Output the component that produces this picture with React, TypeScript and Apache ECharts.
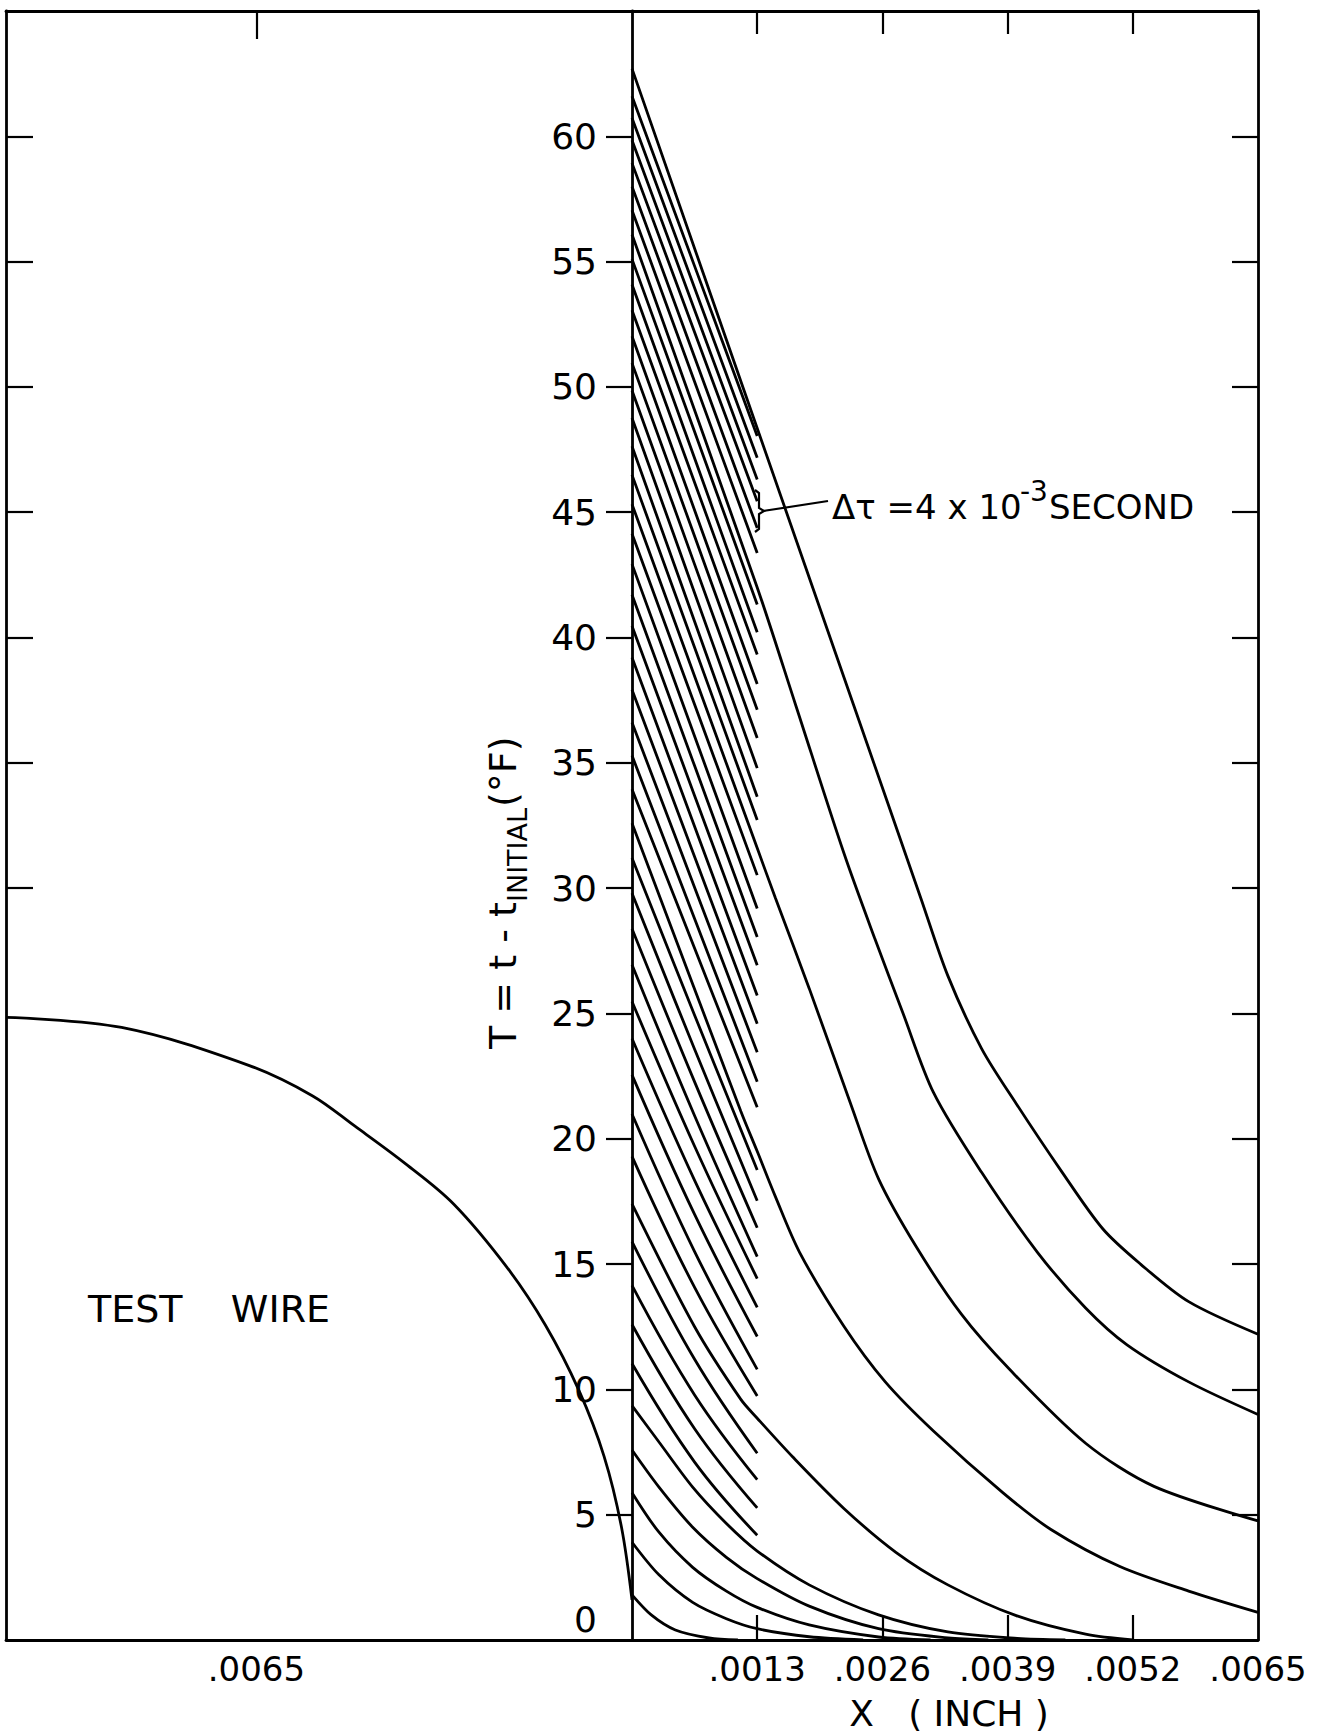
import React, { useEffect, useRef } from "react";
import * as echarts from "echarts";

// ---------- axis ticks & labels ----------
const yLabelValues = [0, 5, 10, 15, 20, 25, 30, 35, 40, 45, 50, 55, 60];
const yTickValues = [5, 10, 15, 20, 25, 30, 35, 40, 45, 50, 55, 60];
const leftFrameTickValues = [30, 35, 40, 45, 50, 55, 60];
const xTickValues = [0.0013, 0.0026, 0.0039, 0.0052];
const xLabelValues = [0.0013, 0.0026, 0.0039, 0.0052, 0.0065];
const xLabelTexts = [".0013", ".0026", ".0039", ".0052", ".0065"];
const wireTickValues = [-0.0039];
const wireLabelTexts = [".0065"];

// ---------- short (truncated) profiles, drawn only to x = .0013 ----------
const hatchX = [0, 0.00065, 0.0013];
const hatchStart = [
  11.03, 12.59, 14.15, 15.9, 19.3, 20.99, 22.55, 24.0, 25.48, 26.94, 28.38, 29.8, 31.2,
  33.95, 35.29, 36.61, 37.92, 39.2, 40.46, 41.71, 42.93, 44.14,
  46.49, 47.63, 48.76, 49.86, 50.95, 52.02, 53.06, 54.09, 55.1,
  57.05, 58.0, 58.93, 59.84, 60.73, 61.6,
];
const hatchMid = [
  7.1, 8.43, 9.78, 11.2, 14.07, 15.5, 16.98, 18.34, 19.7, 20.92, 22.27, 23.57, 24.93,
  27.6, 28.78, 30.03, 31.25, 32.46, 33.69, 34.88, 36.06, 37.33,
  39.6, 40.64, 41.78, 42.92, 44.04, 45.08, 46.19, 47.15, 48.21,
  50.21, 51.18, 52.18, 53.07, 53.95, 54.82,
];
const hatchEnd = [
  4.18, 5.27, 6.4, 7.45, 9.74, 10.8, 12.11, 13.27, 14.42, 15.3, 16.45, 17.53, 18.75,
  21.26, 22.28, 23.45, 24.59, 25.72, 26.92, 28.05, 29.19, 30.52,
  32.72, 33.65, 34.79, 35.99, 37.12, 38.15, 39.32, 40.21, 41.32,
  43.37, 44.37, 45.44, 46.31, 47.17, 48.04,
];

// ---------- full profiles [x (inch), T (°F)] ----------
const curveA = [[0, 62.7], [0.0013, 48.35], [0.0023, 37.32], [0.003, 29.59], [0.00328, 26.5], [0.00363, 23.6], [0.00399, 21.4], [0.00446, 18.7], [0.00489, 16.4], [0.00528, 15.0], [0.00578, 13.5], [0.0065, 12.2]];
const curveB = [[0, 56.08], [0.0013, 42.0], [0.0017, 37.3], [0.0022, 31.4], [0.00252, 28.0], [0.00281, 25.05], [0.00313, 21.85], [0.00363, 18.66], [0.00421, 15.47], [0.00471, 13.25], [0.00514, 11.78], [0.00578, 10.3], [0.0065, 9.0]];
const curveC = [[0, 45.32], [0.0013, 31.6], [0.00149, 29.6], [0.00184, 26.0], [0.00227, 21.4], [0.00256, 18.4], [0.00295, 15.7], [0.00342, 13.0], [0.00392, 10.8], [0.00471, 7.85], [0.00542, 6.13], [0.0065, 4.75]];
const curveD = [[0, 32.59], [0.00113, 21.1], [0.0013, 19.5], [0.00149, 17.68], [0.00174, 15.47], [0.0022, 12.52], [0.00263, 10.3], [0.00313, 8.34], [0.00385, 5.88], [0.00435, 4.41], [0.00506, 2.94], [0.00578, 1.95], [0.0065, 1.1]];
const curveE = [[0, 17.4], [0.00065, 12.5], [0.00113, 9.6], [0.0013, 8.85], [0.00167, 7.3], [0.0022, 5.25], [0.00274, 3.5], [0.00328, 2.2], [0.00399, 0.97], [0.00471, 0.23], [0.0052, 0]];
const curveF5 = [[0, 9.35], [0.00028, 7.9], [0.00063, 6.1], [0.00098, 4.65], [0.0013, 3.55], [0.00184, 2.2], [0.00256, 1.0], [0.00328, 0.32], [0.004, 0.06], [0.0045, 0]];
const curveF4 = [[0, 7.58], [0.00028, 6.1], [0.00063, 4.5], [0.00098, 3.3], [0.0013, 2.45], [0.00184, 1.35], [0.00256, 0.45], [0.00328, 0.08], [0.0037, 0]];
const curveF3 = [[0, 5.88], [0.00028, 4.3], [0.00063, 2.9], [0.00098, 1.95], [0.0013, 1.3], [0.00184, 0.6], [0.00256, 0.12], [0.0031, 0]];
const curveF2 = [[0, 3.9], [0.00028, 2.6], [0.00063, 1.5], [0.00098, 0.85], [0.0013, 0.45], [0.00184, 0.13], [0.0024, 0]];
const curveF1 = [[0, 1.8], [0.0002, 1.0], [0.00045, 0.4], [0.0008, 0.08], [0.0011, 0]];

// ---------- test wire outline (left panel) ----------
const wireX = [-0.0065, -0.0053, -0.00398, -0.00332, -0.00288, -0.00235, -0.00185, -0.0013, -0.0009, -0.00055, -0.00029, -0.00011, 0];
const wireT = [24.84, 24.44, 22.93, 21.72, 20.51, 19.0, 17.39, 14.88, 12.57, 9.95, 7.33, 4.52, 1.6];

const FONT = "DejaVu Sans";
const INK = "#000";

function pickText(values: number[], texts: string[], v: number) {
  for (let i = 0; i < values.length; i++) {
    if (Math.abs(values[i] - v) < 1e-9) return texts[i];
  }
  return "";
}

export default function App() {
  const ref = useRef<HTMLDivElement>(null);

  useEffect(() => {
    document.body.style.margin = "0";
    const chart = echarts.init(ref.current!, null, { renderer: "svg" });

    const frameLine = { show: true, onZero: false, lineStyle: { color: INK, width: 2.8 } };
    const tickStyle = { color: INK, width: 2.2 };
    const xLabelFont = { color: INK, fontFamily: FONT, fontSize: 34 };
    const yLabelFont = { color: INK, fontFamily: FONT, fontSize: 36 };

    const lineBase = {
      type: "line",
      symbol: "none",
      silent: true,
      animation: false,
      lineStyle: { color: INK, width: 2.8 },
    };

    const series: any[] = [];
    series.push({
      ...lineBase,
      xAxisIndex: 0,
      yAxisIndex: 0,
      smooth: 0.35,
      data: wireX.map((x, i) => [x, wireT[i]]),
    });
    hatchStart.forEach((s, i) => {
      const ys = [s, hatchMid[i], hatchEnd[i]];
      series.push({
        ...lineBase,
        xAxisIndex: 2,
        yAxisIndex: 1,
        smooth: 0.4,
        data: hatchX.map((x, j) => [x, ys[j]]),
      });
    });
    [curveA, curveB, curveC, curveD, curveE, curveF5, curveF4, curveF3, curveF2, curveF1].forEach((c) => {
      series.push({
        ...lineBase,
        xAxisIndex: 2,
        yAxisIndex: 1,
        smooth: 0.3,
        data: c,
      });
    });

    const t = (x: number, y: number, text: string, size: number, align = "left") => ({
      type: "text",
      x,
      y,
      style: { text, font: `${size}px "${FONT}"`, fill: INK, align, verticalAlign: "middle" },
    });

    chart.setOption({
      animation: false,
      backgroundColor: "#fff",
      grid: [
        { left: 6, top: 11, width: 626, height: 1629 },
        { left: 632, top: 11, width: 626, height: 1629 },
      ],
      xAxis: [
        {
          gridIndex: 0, type: "value", min: -0.0065, max: 0, position: "bottom",
          axisLine: frameLine, splitLine: { show: false },
          axisTick: { show: false },
          axisLabel: {
            ...xLabelFont, margin: 12, customValues: wireTickValues,
            formatter: (v: number) => pickText(wireTickValues, wireLabelTexts, v),
          },
        },
        {
          gridIndex: 0, type: "value", min: -0.0065, max: 0, position: "top",
          axisLine: frameLine, splitLine: { show: false },
          axisTick: { show: true, inside: true, length: 28, customValues: wireTickValues, lineStyle: tickStyle },
          axisLabel: { show: false },
        },
        {
          gridIndex: 1, type: "value", min: 0, max: 0.0065, position: "bottom",
          axisLine: frameLine, splitLine: { show: false },
          axisTick: { show: true, inside: true, length: 25, customValues: xTickValues, lineStyle: tickStyle },
          axisLabel: {
            ...xLabelFont, margin: 12, customValues: xLabelValues,
            formatter: (v: number) => pickText(xLabelValues, xLabelTexts, v),
          },
        },
        {
          gridIndex: 1, type: "value", min: 0, max: 0.0065, position: "top",
          axisLine: frameLine, splitLine: { show: false },
          axisTick: { show: true, inside: true, length: 23, customValues: xTickValues, lineStyle: tickStyle },
          axisLabel: { show: false },
        },
      ],
      yAxis: [
        {
          gridIndex: 0, type: "value", min: 0, max: 65, position: "left",
          axisLine: frameLine, splitLine: { show: false },
          axisTick: { show: true, inside: true, length: 27, customValues: leftFrameTickValues, lineStyle: tickStyle },
          axisLabel: { show: false },
        },
        {
          gridIndex: 1, type: "value", min: 0, max: 65, position: "left",
          axisLine: frameLine, splitLine: { show: false },
          axisTick: { show: true, inside: false, length: 26, customValues: yTickValues, lineStyle: tickStyle },
          axisLabel: {
            ...yLabelFont, margin: 35, customValues: yLabelValues,
            formatter: (v: number) => (v === 0 ? "{z|0}" : String(v)),
            rich: { z: { color: INK, fontFamily: FONT, fontSize: 36, padding: [0, 0, 42, 0] } },
          },
        },
        {
          gridIndex: 1, type: "value", min: 0, max: 65, position: "right",
          axisLine: frameLine, splitLine: { show: false },
          axisTick: { show: true, inside: true, length: 26, customValues: yTickValues, lineStyle: tickStyle },
          axisLabel: { show: false },
        },
      ],
      series,
      graphic: [
        {
          type: "group", x: 503, y: 893, rotation: Math.PI / 2,
          children: [
            t(-156, 0, "T = t - t", 38),
            t(-9, 14, "INITIAL", 27),
            t(86, 0, "(°F)", 38),
          ],
        },
        t(832, 507, "Δτ =4 x 10", 34),
        t(1020, 491, "-3", 28),
        t(1049, 507, "SECOND", 34),
        {
          type: "line",
          shape: { x1: 763, y1: 511, x2: 828, y2: 501 },
          style: { stroke: INK, lineWidth: 2.2 },
        },
        {
          type: "polyline",
          shape: { points: [[755, 490], [759, 493], [759, 508], [764, 511], [759, 514], [759, 529], [755, 532]] },
          style: { stroke: INK, lineWidth: 2.2, fill: "none" },
        },
        t(88, 1309, "TEST    WIRE", 38),
        t(949, 1713, "X   ( INCH )", 36, "center"),
      ],
    });

    return () => chart.dispose();
  }, []);

  return <div ref={ref} style={{ width: 1319, height: 1735 }} />;
}
